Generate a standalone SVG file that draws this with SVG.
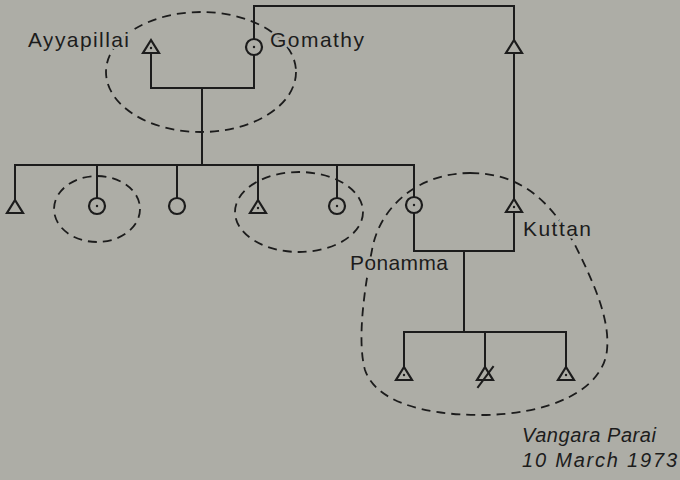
<svg xmlns="http://www.w3.org/2000/svg" width="680" height="480" viewBox="0 0 680 480">
<style>
.ln{fill:none;stroke:#1c1c1c;stroke-width:2;stroke-linecap:square}
.dash{fill:none;stroke:#1c1c1c;stroke-width:1.8;stroke-dasharray:9 6}
.sym{fill:none;stroke:#1c1c1c;stroke-width:2.2;stroke-linejoin:miter}
.dot{fill:#1c1c1c}
.lbl{font-family:"Liberation Sans",Arial,sans-serif;font-size:21px;fill:#1c1c1c;stroke:#adada6;stroke-width:5;paint-order:stroke}
.cap{font-family:"Liberation Sans",Arial,sans-serif;font-size:20px;font-style:italic;fill:#1c1c1c}
</style>
<defs>
<path id="tri" d="M0,0 L8,13 L-8,13 Z"/>
<circle id="dot" r="1.2"/>
</defs>
<rect width="680" height="480" fill="#adada6"/>

<g id="groupings">
<ellipse class="dash" cx="201" cy="72" rx="95" ry="60"/>
<ellipse class="dash" cx="97" cy="209" rx="43" ry="33"/>
<ellipse class="dash" cx="299" cy="212" rx="64" ry="40"/>
<path class="dash" d="M470,173 C520,173 550,200 575,245 C595,285 610,320 607,350 C603,390 550,415 480,415 C420,415 375,400 365,370 C358,345 362,300 372,250 C380,205 420,173 470,173 Z"/>
</g>

<g id="connectors">
<path class="ln" d="M151,53 V88 H254 V55"/>
<path class="ln" d="M254,39 V6 H514 V40"/>
<path class="ln" d="M514,53 V198"/>
<path class="ln" d="M202,88 V165"/>
<path class="ln" d="M15,200 V165 H414 V197"/>
<path class="ln" d="M97,165 V198 M177,165 V198 M258,165 V200 M337,165 V198"/>
<path class="ln" d="M414,213 V251 H514 V212"/>
<path class="ln" d="M464,251 V332"/>
<path class="ln" d="M404,367 V332 H566 V367 M485,332 V367"/>
</g>

<g id="ayyapillai"><use href="#tri" class="sym" x="151" y="40"/><use href="#dot" class="dot" x="151" y="48"/></g>
<g id="gomathy"><circle class="sym" cx="254" cy="47" r="8"/><use href="#dot" class="dot" x="254" y="47"/></g>
<g id="gomathy-brother"><use href="#tri" class="sym" x="514" y="40"/></g>
<g id="sib1"><use href="#tri" class="sym" x="15" y="200"/></g>
<g id="sib2"><circle class="sym" cx="97" cy="206" r="8"/><use href="#dot" class="dot" x="97" y="206"/></g>
<g id="sib3"><circle class="sym" cx="177" cy="206" r="8"/></g>
<g id="sib4"><use href="#tri" class="sym" x="258" y="200"/><use href="#dot" class="dot" x="258" y="208"/></g>
<g id="sib5"><circle class="sym" cx="337" cy="206" r="8"/><use href="#dot" class="dot" x="337" y="206"/></g>
<g id="ponamma"><circle class="sym" cx="414" cy="205" r="8"/><use href="#dot" class="dot" x="414" y="205"/></g>
<g id="kuttan"><use href="#tri" class="sym" x="514" y="199"/><use href="#dot" class="dot" x="514" y="207"/></g>
<g id="child1"><use href="#tri" class="sym" x="404" y="367"/><use href="#dot" class="dot" x="404" y="375"/></g>
<g id="child2"><use href="#tri" class="sym" x="485" y="367"/><path class="ln" d="M478,387 L493,367"/></g>
<g id="child3"><use href="#tri" class="sym" x="566" y="367"/><use href="#dot" class="dot" x="566" y="375"/></g>

<g id="labels">
<text class="lbl" x="28" y="47" textLength="101" lengthAdjust="spacing">Ayyapillai</text>
<text class="lbl" x="270" y="47" textLength="94" lengthAdjust="spacing">Gomathy</text>
<text class="lbl" x="523" y="236" textLength="68" lengthAdjust="spacing">Kuttan</text>
<text class="lbl" x="350" y="270" textLength="98" lengthAdjust="spacing">Ponamma</text>
<text class="cap" x="522" y="442" textLength="134" lengthAdjust="spacing">Vangara Parai</text>
<text class="cap" x="522" y="467" textLength="155" lengthAdjust="spacing">10 March 1973</text>
</g>
</svg>
